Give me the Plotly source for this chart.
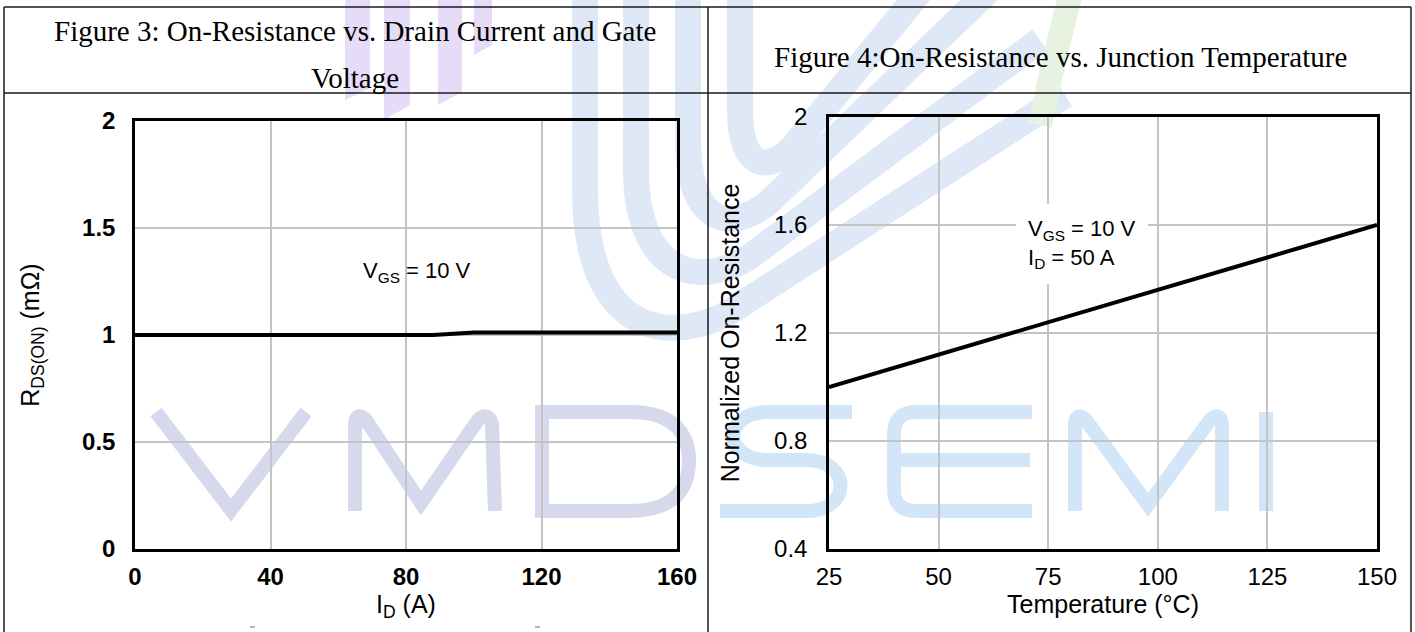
import plotly.graph_objects as go

# ---- Figure 3: on-resistance vs drain current (VGS = 10 V) ----
drain_current_a = [0, 20, 40, 60, 80, 88, 94, 100, 120, 140, 160]
rds_on_mohm = [1.0, 1.0, 1.0, 1.0, 1.0, 1.0, 1.006, 1.012, 1.012, 1.012, 1.012]

# ---- Figure 4: normalized on-resistance vs junction temperature ----
junction_temp_c = [25, 50, 75, 100, 125, 150]
norm_rds_on = [1.0, 1.12, 1.24, 1.36, 1.48, 1.6]

# ---- tick values / labels ----
id_ticks = [0, 40, 80, 120, 160]
rds_ticks = [0, 0.5, 1, 1.5, 2]
rds_tick_text = ["0", "0.5", "1", "1.5", "2"]
temp_ticks = [25, 50, 75, 100, 125, 150]
norm_ticks = [0.4, 0.8, 1.2, 1.6, 2.0]
norm_tick_text = ["0.4", "0.8", "1.2", "1.6", "2"]

W, H = 1415, 632
SANS = "Liberation Sans"
SERIF = "Liberation Serif"


def fx(x):
    return x / W


def fy(y):
    return 1 - y / H


def path(*segs):
    """Build an SVG path in paper units from pixel-space segments."""
    out = []
    for seg in segs:
        cmd, pts = seg[0], seg[1:]
        coords = [f"{fx(pts[i]):.5f},{fy(pts[i + 1]):.5f}" for i in range(0, len(pts), 2)]
        out.append(cmd + " ".join(coords))
    return " ".join(out)


def stroke(p, color, width):
    return dict(type="path", path=p, xref="paper", yref="paper",
                line=dict(color=color, width=width), layer="below")


def filled(p, color):
    return dict(type="path", path=p, xref="paper", yref="paper",
                fillcolor=color, line=dict(width=0), layer="below")


def label(x, y, text, font, **kw):
    fig.add_annotation(x=fx(x), y=fy(y), xref="paper", yref="paper", showarrow=False,
                       xanchor=kw.pop("xanchor", "center"), yanchor=kw.pop("yanchor", "middle"),
                       text=text, font=font, **kw)


fig = go.Figure()

fig.add_trace(go.Scatter(
    x=drain_current_a, y=rds_on_mohm, mode="lines",
    line=dict(color="black", width=4), xaxis="x", yaxis="y",
    showlegend=False, hoverinfo="skip"))

fig.add_trace(go.Scatter(
    x=junction_temp_c, y=norm_rds_on, mode="lines",
    line=dict(color="black", width=4), xaxis="x2", yaxis="y2",
    showlegend=False, hoverinfo="skip"))

axis_common = dict(
    showgrid=True, gridcolor="#c4c4c4", gridwidth=1.6,
    showline=True, linecolor="black", linewidth=2.5, mirror=True,
    zeroline=False, ticks="", fixedrange=True, automargin=False,
)

bold_ticks = dict(family=SANS, size=24, color="black", weight="bold")
plain_ticks = dict(family=SANS, size=24, color="black")
title_font = dict(family=SANS, size=25, color="black")

fig.update_layout(
    width=W, height=H,
    margin=dict(l=0, r=0, t=0, b=0, autoexpand=False),
    paper_bgcolor="white", plot_bgcolor="rgba(0,0,0,0)",
    showlegend=False,
    xaxis=dict(axis_common, domain=[fx(135), fx(677)], range=[0, 160],
               tickvals=id_ticks, tickfont=bold_ticks, ticklabelstandoff=4,
               anchor="y",
               title=dict(text="I<sub>D</sub> (A)", font=title_font, standoff=1)),
    yaxis=dict(axis_common, domain=[fy(549), fy(121)], range=[0, 2],
               tickvals=rds_ticks, ticktext=rds_tick_text, tickfont=bold_ticks,
               ticklabelstandoff=12, anchor="x",
               title=dict(text="R<sub>DS(ON)</sub> (mΩ)", font=title_font, standoff=36)),
    xaxis2=dict(axis_common, domain=[fx(829), fx(1377)], range=[25, 150],
                tickvals=temp_ticks, tickfont=plain_ticks, ticklabelstandoff=4,
                anchor="y2",
                title=dict(text="Temperature (°C)", font=title_font, standoff=1)),
    yaxis2=dict(axis_common, domain=[fy(549), fy(117)], range=[0.4, 2.0],
                tickvals=norm_ticks, ticktext=norm_tick_text, tickfont=plain_ticks,
                ticklabelstandoff=14, anchor="x2",
                title=dict(text="Normalized On-Resistance", font=title_font, standoff=28)),
)

# ---- captions and test conditions ----
caption_font = dict(family=SERIF, size=29, color="black")
label(355, 31, "Figure 3: On-Resistance vs. Drain Current and Gate", caption_font)
label(355, 78, "Voltage", caption_font)
label(1060, 57, "Figure 4:On-Resistance vs. Junction Temperature", caption_font)

cond_font = dict(family=SANS, size=22, color="black")
label(417, 272, "V<sub>GS</sub> = 10 V", cond_font)
label(1016, 244, "V<sub>GS</sub> = 10 V<br>I<sub>D</sub> = 50 A", cond_font,
      xanchor="left", align="left", bgcolor="white", borderpad=12, borderwidth=0)

# ---- background watermark ----
shapes = []
purple = "#e6dcf7"
for p in [
    path(("M", 345, -5), ("L", 370, -5), ("L", 370, 88), ("L", 345, 100), ("Z",)),
    path(("M", 384, -5), ("L", 410, -5), ("L", 410, 105), ("L", 384, 120), ("Z",)),
    path(("M", 438, -5), ("L", 462, -5), ("L", 462, 92), ("L", 438, 105), ("Z",)),
    path(("M", 474, -5), ("L", 492, -5), ("L", 492, 45), ("L", 474, 55), ("Z",)),
]:
    shapes.append(filled(p, purple))

band = "#dfe8f6"
for p in [
    path(("M", 585, -20), ("L", 585, 190), ("C", 585, 315, 650, 350, 725, 315), ("L", 1065, 95)),
    path(("M", 636, -20), ("L", 636, 170), ("C", 636, 265, 690, 292, 748, 258), ("L", 1040, 40)),
    path(("M", 688, -20), ("L", 688, 140), ("C", 688, 218, 725, 236, 768, 203), ("L", 1000, -20)),
    path(("M", 740, -20), ("L", 740, 110), ("C", 740, 165, 765, 175, 792, 148), ("L", 930, -20)),
]:
    shapes.append(stroke(p, band, 26))
shapes.append(stroke(path(("M", 1075, -20), ("C", 1060, 30, 1050, 80, 1040, 125)), "#e7f3e0", 24))

vmd = "#d6d8ec"
semi = "#d2e6f8"
shapes += [
    stroke(path(("M", 156, 412), ("L", 231, 510), ("L", 306, 412)), vmd, 14),
    stroke(path(("M", 355, 511), ("L", 355, 424), ("Q", 356, 411, 366, 420),
                ("L", 421, 503), ("L", 478, 420), ("Q", 488, 411, 492, 424),
                ("L", 495, 511)), vmd, 14),
    stroke(path(("M", 542, 412), ("L", 542, 511), ("L", 630, 511),
                ("C", 672, 511, 689, 490, 689, 461), ("C", 689, 432, 672, 412, 630, 412),
                ("Z",)), vmd, 14),
    stroke(path(("M", 852, 412), ("L", 768, 412), ("C", 722, 412, 722, 460, 768, 460),
                ("L", 806, 460), ("C", 852, 460, 852, 511, 806, 511), ("L", 720, 511)), semi, 14),
    stroke(path(("M", 1032, 412), ("L", 916, 412), ("Q", 894, 412, 894, 434),
                ("L", 894, 489), ("Q", 894, 511, 916, 511), ("L", 1032, 511),
                ("M", 894, 460), ("L", 1030, 460)), semi, 14),
    stroke(path(("M", 1075, 511), ("L", 1075, 424), ("Q", 1076, 411, 1086, 420),
                ("L", 1148, 505), ("L", 1210, 420), ("Q", 1220, 411, 1222, 424),
                ("L", 1222, 511)), semi, 14),
    stroke(path(("M", 1266, 412), ("L", 1266, 511)), semi, 14),
]

# small fragments at the foot of the left cell
for x0 in (250, 535):
    shapes.append(dict(type="line", xref="paper", yref="paper",
                       x0=fx(x0), y0=fy(627), x1=fx(x0 + 5), y1=fy(627),
                       line=dict(color="#9a9a9a", width=1.5), layer="below"))

# ---- table frame ----
rule = dict(color="#1a1a1a", width=1.5)
for x0, y0, x1, y1 in [(4, 7, 1411, 7), (4, 93, 1411, 93), (4, 7, 4, 640),
                       (708, 7, 708, 640), (1411, 7, 1411, 640)]:
    shapes.append(dict(type="line", xref="paper", yref="paper",
                       x0=fx(x0), y0=fy(y0), x1=fx(x1), y1=fy(y1),
                       line=rule, layer="above"))

fig.update_layout(shapes=shapes)

fig.write_html("out.html")
